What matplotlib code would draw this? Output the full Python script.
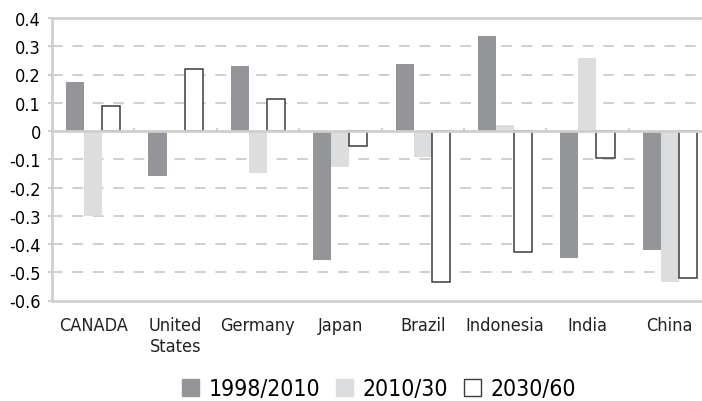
import matplotlib
matplotlib.use("Agg")
import matplotlib.pyplot as plt
from matplotlib.patches import Patch
import numpy as np

# data
countries = ["CANADA", "United\nStates", "Germany", "Japan", "Brazil", "Indonesia", "India", "China"]
p1998_2010 = [0.175, -0.16, 0.23, -0.457, 0.237, 0.337, -0.449, -0.42]
p2010_30 = [-0.30, 0.0, -0.15, -0.128, -0.092, 0.02, 0.258, -0.535]
p2030_60 = [0.088, 0.22, 0.115, -0.054, -0.536, -0.43, -0.097, -0.52]
series_names = ["1998/2010", "2010/30", "2030/60"]
yticks = [0.4, 0.3, 0.2, 0.1, 0, -0.1, -0.2, -0.3, -0.4, -0.5, -0.6]

plt.rcParams["font.family"] = "DejaVu Sans"
plt.rcParams["font.stretch"] = "condensed"
plt.rcParams["axes.unicode_minus"] = False

dark = "#939598"
light = "#dcdddf"
edge = "#3c3c3c"
axis_grey = "#cfcfcf"

fig = plt.figure(figsize=(7.02, 4.02), dpi=100)
# axes runs a little past the right edge of the picture, like the original crop
ax = fig.add_axes([52 / 702, 100.5 / 402, 659 / 702, 282.5 / 402])

x = np.arange(len(countries))
w = 0.22
ax.bar(x - w, p1998_2010, w, color=dark, zorder=3)
ax.bar(x, p2010_30, w, color=light, zorder=3)
ax.bar(x + w, p2030_60, w, color="white", edgecolor=edge, linewidth=1.1, zorder=3)

ax.set_xlim(-0.5, len(countries) - 0.5)
ax.set_ylim(-0.6, 0.4)

# dashed grid, solid zero line
for v in yticks[1:-1]:
    if v == 0:
        ax.axhline(0, color=axis_grey, lw=2, zorder=4)
    else:
        ax.axhline(v, color=axis_grey, lw=1.4, ls=(0, (5.5, 5)), zorder=1)

# small ticks between categories on the zero line
bounds = np.arange(len(countries) - 1) + 0.5
ax.vlines(bounds, 0, 0.012, color=axis_grey, lw=1.5, zorder=4)

for s in ["top", "bottom", "left"]:
    ax.spines[s].set_color(axis_grey)
    ax.spines[s].set_linewidth(2)
ax.spines["right"].set_visible(False)

ax.set_yticks(yticks)
ax.set_yticklabels(["0" if v == 0 else f"{v:.1f}" for v in yticks])
ax.tick_params(axis="y", length=3, width=1.5, color=axis_grey, pad=5, labelsize=13)
ax.set_xticks(x)
ax.set_xticklabels(countries, fontsize=13, color="#222222")
ax.tick_params(axis="x", length=0, pad=11)

handles = [Patch(facecolor=dark, edgecolor=dark),
           Patch(facecolor=light, edgecolor=light),
           Patch(facecolor="white", edgecolor=edge, linewidth=1)]
fig.legend(handles, series_names, loc="center", bbox_to_anchor=(0.54, 0.03),
           ncol=3, frameon=False, fontsize=16.5, handlelength=0.75,
           handleheight=0.75, handletextpad=0.4, columnspacing=0.7)

fig.savefig("out.png", dpi=100)
